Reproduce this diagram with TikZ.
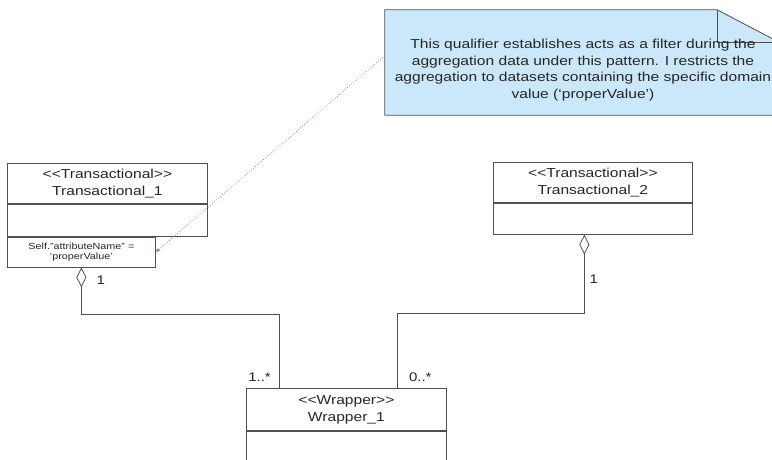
\documentclass[tikz,border=0pt]{standalone}
\usepackage{fontspec}
\setmainfont{Liberation Sans}[FakeStretch=1.2]
\usetikzlibrary{arrows.meta, positioning, calc}

\definecolor{notefill}{RGB}{203,231,250}
\definecolor{linkblue}{RGB}{105,105,228}
\definecolor{umlline}{RGB}{80,80,80}

\begin{document}
\begin{tikzpicture}[
	  x=1pt, y=-1pt,
	  classhead/.style={rectangle, minimum width=200pt, minimum height=40pt, inner sep=0pt, align=center, draw=umlline, line width=0.8pt, font=\fontsize{13}{17}\selectfont, text=black!85},
	  classbody/.style={rectangle, minimum width=200pt, minimum height=32pt, inner sep=0pt, draw=umlline, line width=0.8pt},
	  qualbox/.style={rectangle, minimum width=148pt, minimum height=30pt, inner sep=0pt, align=center, draw=umlline, line width=0.8pt, font=\fontsize{9}{9.5}\selectfont, text=black!85},
	  notebox/.style={rectangle, minimum width=395pt, minimum height=105pt, inner sep=0pt},
	  notetext/.style={align=center, font=\fontsize{13}{16.5}\selectfont, text=black!85},
	  mult/.style={inner sep=0pt, font=\fontsize{12.5}{13}\selectfont, text=black!85},
	  agg/.style={draw=umlline, line width=0.8pt, {Diamond[open, length=20pt, width=10pt]}-},
	  anchorline/.style={draw=linkblue, line width=0.7pt, dotted, -{Stealth[length=5pt, width=3.5pt]}}
	]
	\useasboundingbox (0,0) rectangle (772,459);

	% note
	\node (notebox) [notebox] at (582.5,62.5) {};
	\filldraw [fill=notefill, draw=umlline, line width=0.8pt] (notebox.north west) -- ($(notebox.north east)+(-63,0)$) -- ($(notebox.north east)+(0,33)$) -- (notebox.south east) -- (notebox.south west) -- cycle;
	\draw [draw=umlline, line width=0.8pt] ($(notebox.north east)+(-63,0)$) |- ($(notebox.north east)+(0,33)$);
	\node (notetxt) [notetext] at (583,70) {This qualifier establishes acts as a filter during the\\aggregation data under this pattern.  I restricts the\\aggregation to datasets containing the specific domain\\value (`properValue')};

	% classes
	\node (t1head) [classhead, anchor=north west] at (7,163) {<{}<Transactional>{}>\\Transactional\_1};
	\node (t1body) [classbody, below=0pt of t1head] {};
	\node (t1qual) [qualbox, anchor=north west] at (t1body.south west) {Self."attributeName" =\\`properValue'};

	\node (t2head) [classhead, minimum width=199pt, anchor=north west] at (493,162) {<{}<Transactional>{}>\\Transactional\_2};
	\node (t2body) [classbody, minimum width=199pt, minimum height=31pt, below=0pt of t2head] {};

	\node (wraphead) [classhead, minimum height=42pt, anchor=north west] at (246,388) {<{}<Wrapper>{}>\\Wrapper\_1};
	\node (wrapbody) [classbody, minimum height=40pt, below=0pt of wraphead] {};

	\coordinate (t2foot) at ($(t2body.south)+(-8.5,0)$);
	\coordinate (w1) at ($(wraphead.north west)+(33,0)$);
	\coordinate (w2) at ($(wraphead.north east)+(-49,0)$);

	% associations
	\draw [agg] (t1qual.south) -- ++(0,47) -| (w1);
	\draw [agg] (t2foot) -- ++(0,79) -| (w2);
	\draw [anchorline] (notebox.178) -- (t1qual.east);

	\node (m1) [mult, below right=8pt and 15pt of t1qual.south] {1};
	\node (m2) [mult, below right=40pt and 5pt of t2foot] {1};
	\node (m3) [mult, above left=6pt and 8pt of w1] {1..*};
	\node (m4) [mult, above right=6pt and 11pt of w2] {0..*};

	\end{tikzpicture}
\end{document}
